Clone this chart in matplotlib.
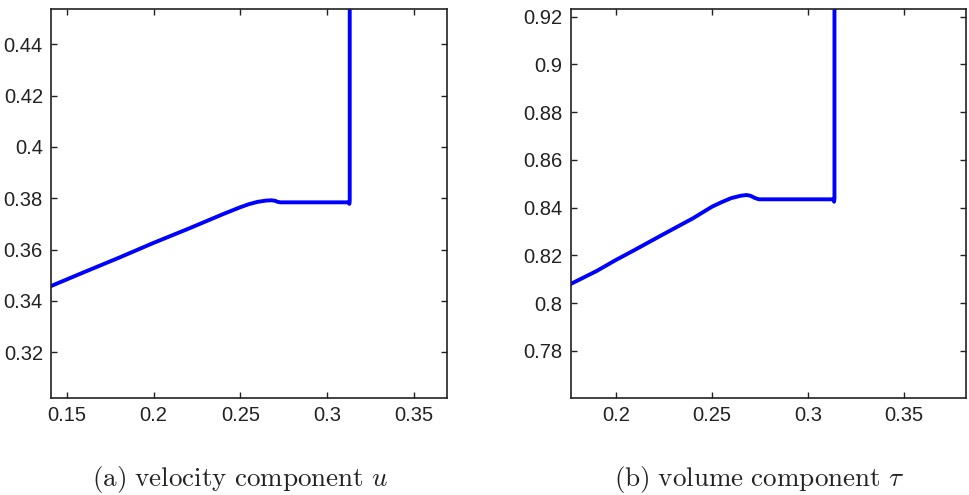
import matplotlib
matplotlib.use('Agg')
import matplotlib.pyplot as plt

plt.rcParams['font.family'] = 'Liberation Sans'
plt.rcParams['mathtext.fontset'] = 'cm'

# velocity component u
u_x = [0.141, 0.16, 0.18, 0.20, 0.22, 0.24, 0.25, 0.255, 0.26, 0.265, 0.268,
       0.270, 0.2715, 0.273, 0.29, 0.3125, 0.3128, 0.3130, 0.3130]
u_y = [0.3458, 0.3512, 0.3568, 0.3626, 0.3681, 0.3738, 0.3765, 0.3777, 0.3786,
       0.3791, 0.3792, 0.3790, 0.3786, 0.3784, 0.3784, 0.3784, 0.3778, 0.3790, 0.50]

# volume component tau
tau_x = [0.1766, 0.19, 0.20, 0.21, 0.225, 0.24, 0.25, 0.255, 0.26, 0.265, 0.268,
         0.270, 0.2725, 0.2745, 0.29, 0.3132, 0.3136, 0.3138, 0.3138]
tau_y = [0.8081, 0.8135, 0.8181, 0.8224, 0.8290, 0.8355, 0.8404, 0.8423, 0.8440,
         0.8450, 0.8453, 0.8450, 0.8440, 0.8435, 0.8435, 0.8435, 0.8425, 0.8440, 0.95]

u_xticks = [0.15, 0.2, 0.25, 0.3, 0.35]
u_yticks = [0.32, 0.34, 0.36, 0.38, 0.4, 0.42, 0.44]
tau_xticks = [0.2, 0.25, 0.3, 0.35]
tau_yticks = [0.78, 0.8, 0.82, 0.84, 0.86, 0.88, 0.9, 0.92]

fig = plt.figure(figsize=(9.69, 4.95), dpi=100)
ax1 = fig.add_axes([0.0529, 0.1966, 0.408, 0.7846])
ax2 = fig.add_axes([0.5893, 0.1966, 0.4076, 0.7846])


def style(ax, xt, yt):
    ax.set_xticks(xt)
    ax.set_yticks(yt)
    ax.set_xticklabels([('%g' % v) for v in xt])
    ax.set_yticklabels([('%g' % v) for v in yt])
    ax.tick_params(direction='in', length=4, width=1, top=True, right=True,
                   labelsize=14.5, pad=6, colors='#222222')
    for s in ax.spines.values():
        s.set_linewidth(1.2)
        s.set_color('#222222')


ax1.plot(u_x, u_y, color='#0000ff', lw=2.8, solid_joinstyle='round')
ax1.set_xlim(0.1411, 0.3688)
ax1.set_ylim(0.3023, 0.4536)
style(ax1, u_xticks, u_yticks)

ax2.plot(tau_x, tau_y, color='#0000ff', lw=2.8, solid_joinstyle='round')
ax2.set_xlim(0.1766, 0.3823)
ax2.set_ylim(0.7604, 0.9231)
style(ax2, tau_xticks, tau_yticks)

fig.text(0.2477, 0.0185, r'$\mathrm{(a)\ velocity\ component}\ u$', ha='center',
         va='baseline', fontsize=19.5, color='#222222')
fig.text(0.7836, 0.0185, r'$\mathrm{(b)\ volume\ component}\ \tau$', ha='center',
         va='baseline', fontsize=19.5, color='#222222')

fig.savefig('out.png', dpi=100)
